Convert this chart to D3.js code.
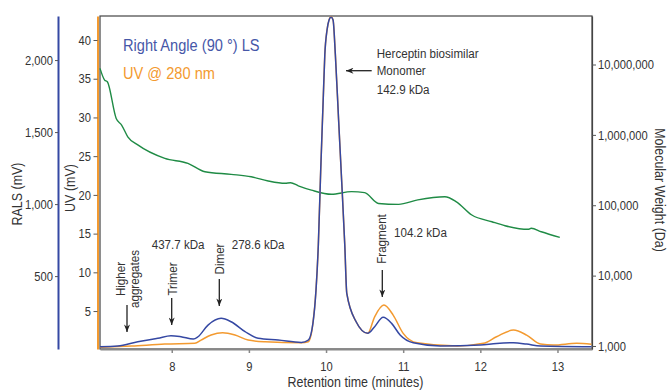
<!DOCTYPE html>
<html>
<head>
<meta charset="utf-8">
<script src="https://cdn.jsdelivr.net/npm/d3@7"></script>
<style>
  html, body { margin: 0; padding: 0; background: #fff; }
  svg { display: block; font-family: "Liberation Sans", Arial, sans-serif; }
  .tick text { fill: #333; font-size: 13px; }
  .note { fill: #333; font-size: 13.5px; }
  .title { fill: #333; font-size: 14.5px; }
</style>
</head>
<body>
<div id="chart"></div>
<script>
// Light scattering (RALS), UV @ 280 nm and molecular weight traces
// for a Herceptin biosimilar SEC run.

// Right angle LS trace (retention time in min, mV)
const RALS_TIME = [7.07, 7.30, 7.56, 7.82, 7.99, 8.12, 8.28, 8.34, 8.47, 8.64, 8.77, 8.95,
    9.12, 9.38, 9.68, 9.77, 9.83, 9.87, 9.90, 9.931, 9.963, 9.984, 10.013, 10.039, 10.065,
    10.091, 10.121, 10.163, 10.202, 10.243, 10.269, 10.39, 10.54, 10.63, 10.74, 10.85,
    10.96, 11.13, 11.48, 12.00, 12.21, 12.43, 12.60, 12.78, 13.44];
const RALS_VALUES = [10, 15, 44, 68, 86, 79, 63, 79, 160, 207, 183, 114,
    68, 56, 40, 56, 172, 403, 716, 1237, 1722, 2035, 2209, 2278, 2299,
    2278, 2035, 1584, 1167, 716, 380, 183, 103, 149, 214, 172,
    91, 37, 15, 22, 33, 37, 28, 15, 10];

// UV @ 280 nm trace (retention time in min, mV)
const UV_TIME = [7.07, 7.48, 7.91, 8.30, 8.38, 8.51, 8.66, 8.82, 8.99, 9.21, 9.68, 9.77,
    9.83, 9.87, 9.90, 9.931, 9.963, 9.984, 10.013, 10.039, 10.065, 10.091, 10.121, 10.163,
    10.202, 10.243, 10.269, 10.39, 10.54, 10.63, 10.75, 10.87, 11.00, 11.18, 11.70, 12.04,
    12.21, 12.43, 12.60, 12.78, 12.95, 13.25, 13.44];
const UV_VALUES = [0.31, 0.48, 0.74, 0.83, 1.25, 1.90, 2.20, 1.90, 1.25, 1.03, 0.90, 1.03,
    3.41, 7.71, 13.5, 23.2, 32.2, 38.1, 41.3, 42.6, 43.0, 42.6, 38.1, 29.6,
    21.9, 13.5, 7.28, 3.62, 2.12, 4.26, 5.77, 4.48, 2.12, 0.90, 0.48, 0.83,
    1.68, 2.54, 1.90, 0.74, 0.61, 0.83, 0.70];

// Molecular weight (Da) across the run
const MW_TIME = [7.07, 7.13, 7.165, 7.28, 7.35, 7.43, 7.56, 7.91, 8.21, 8.43, 8.77, 9.03,
    9.25, 9.47, 9.54, 9.64, 9.81, 10.07, 10.33, 10.50, 10.68, 10.94, 11.19, 11.54, 11.69,
    11.89, 12.15, 12.32, 12.62, 12.66, 12.79, 13.03];
const MW_VALUES = [8.8e6, 6.0e6, 5.68e6, 1.71e6, 1.38e6, 9.4e5, 7.2e5, 4.64e5, 3.94e5,
    2.99e5, 2.75e5, 2.54e5, 2.21e5, 2.05e5, 2.09e5, 1.89e5, 1.64e5, 1.43e5, 1.56e5, 1.51e5,
    1.06e5, 1.03e5, 1.19e5, 1.32e5, 1.12e5, 7.26e4, 5.83e4, 5.12e4, 4.55e4, 4.7e4, 4.2e4, 3.5e4];

const X_TICKS = [8, 9, 10, 11, 12, 13];
const UV_TICKS = [5, 10, 15, 20, 25, 30, 35, 40];
const RALS_TICKS = [500, 1000, 1500, 2000];
const MW_TICKS = [1e3, 1e4, 1e5, 1e6, 1e7];

const W = 667, H = 391;
const PLOT = { left: 100, right: 592, top: 16, bottom: 349 };
const BLUE = "#3548a3", ORANGE = "#f39a30", GREEN = "#1f8b45";
const K = 0.86; // horizontal squeeze to mimic the condensed face

const svg = d3.select("#chart").append("svg")
    .attr("width", W).attr("height", H);

const x = d3.scaleLinear().domain([7.07, 13.4475]).range([PLOT.left, PLOT.right]);
const yUV = d3.scaleLinear().domain([0.1, 43.1]).range([PLOT.bottom, PLOT.top]);
const yRALS = d3.scaleLinear().domain([-6, 2306]).range([PLOT.bottom, PLOT.top]);
const yMW = d3.scaleLog().domain([906, 4.89e7]).range([PLOT.bottom, PLOT.top]);

// Frame
svg.append("rect")
    .attr("x", PLOT.left).attr("y", PLOT.top)
    .attr("width", PLOT.right - PLOT.left).attr("height", PLOT.bottom - PLOT.top)
    .attr("fill", "none").attr("stroke", "#444").attr("stroke-width", 1.2);

// Axes
const fmt = d3.format(",");

function squeezeTicks(axisG) {
    axisG.selectAll(".tick text").each(function () {
        const t = d3.select(this);
        const tx = +t.attr("x") || 0;
        t.attr("x", tx / K).attr("transform", `scale(${K},1)`);
    });
    axisG.attr("font-family", null).attr("font-size", null);
}

const xAxis = svg.append("g")
    .attr("transform", `translate(0,${PLOT.bottom})`)
    .call(d3.axisBottom(x).tickValues(X_TICKS).tickFormat(d3.format("d"))
        .tickSize(4).tickPadding(8.5).tickSizeOuter(0));
xAxis.select(".domain").attr("stroke", "#888").attr("stroke-width", 2);
xAxis.selectAll(".tick line").attr("stroke", "#888").attr("stroke-width", 1.5);
squeezeTicks(xAxis);

const uvAxis = svg.append("g")
    .attr("transform", "translate(97.5,0)")
    .call(d3.axisLeft(yUV).tickValues(UV_TICKS).tickSize(4).tickPadding(2.5).tickSizeOuter(0));
uvAxis.select(".domain").attr("stroke", ORANGE).attr("stroke-width", 2);
uvAxis.selectAll(".tick line").attr("stroke", "#555");
squeezeTicks(uvAxis);

const ralsAxis = svg.append("g")
    .attr("transform", "translate(58,0)")
    .call(d3.axisLeft(yRALS).tickValues(RALS_TICKS).tickFormat(fmt)
        .tickSize(3).tickPadding(2).tickSizeOuter(0));
ralsAxis.select(".domain").attr("stroke", BLUE).attr("stroke-width", 2);
ralsAxis.selectAll(".tick line").attr("stroke", "#555");
squeezeTicks(ralsAxis);

const mwAxis = svg.append("g")
    .attr("transform", `translate(${PLOT.right},0)`)
    .call(d3.axisRight(yMW).tickValues(MW_TICKS).tickFormat(fmt)
        .tickSize(4).tickPadding(2).tickSizeOuter(0));
mwAxis.select(".domain").attr("stroke", "#444").attr("stroke-width", 1.2);
mwAxis.selectAll(".tick line").attr("stroke", "#555");
squeezeTicks(mwAxis);

// Traces
const trace = (ys) => d3.line()
    .x((d) => x(d[0]))
    .y((d) => ys(d[1]))
    .curve(d3.curveMonotoneX);

svg.append("path")
    .datum(d3.zip(MW_TIME, MW_VALUES))
    .attr("fill", "none").attr("stroke", GREEN).attr("stroke-width", 1.4)
    .attr("d", trace(yMW));

svg.append("path")
    .datum(d3.zip(UV_TIME, UV_VALUES))
    .attr("fill", "none").attr("stroke", ORANGE).attr("stroke-width", 1.5)
    .attr("d", trace(yUV));

svg.append("path")
    .datum(d3.zip(RALS_TIME, RALS_VALUES))
    .attr("fill", "none").attr("stroke", BLUE).attr("stroke-width", 1.5)
    .attr("d", trace(yRALS));

// Text helper: squeezed along its own direction
function text(str, tx, ty, opts = {}) {
    const rot = opts.rotate ? ` rotate(${opts.rotate})` : "";
    const el = svg.append("text")
        .attr("class", opts.cls || "note")
        .attr("transform", `translate(${tx},${ty})${rot} scale(${K},1)`)
        .attr("text-anchor", opts.anchor || "start")
        .text(str);
    if (opts.fill) el.style("fill", opts.fill);
    if (opts.size) el.style("font-size", `${opts.size}px`);
    return el;
}

// Legend
text("Right Angle (90 °) LS", 123, 50.5, { fill: "#4657a8", size: 17 });
text("UV @ 280 nm", 123, 79.3, { fill: ORANGE, size: 17 });

// Axis titles
text("RALS (mV)", 22, 194, { cls: "title", rotate: -90, anchor: "middle" });
text("UV (mV)", 75, 188, { cls: "title", rotate: -90, anchor: "middle" });
text("Molecular Weight (Da)", 655, 190, { cls: "title", rotate: 90, anchor: "middle" });
text("Retention time (minutes)", 355.5, 386.5, { cls: "title", anchor: "middle" });

// Annotations
svg.append("defs").append("marker")
    .attr("id", "head")
    .attr("viewBox", "0 -4 10 8")
    .attr("refX", 10).attr("refY", 0)
    .attr("markerUnits", "userSpaceOnUse")
    .attr("markerWidth", 9).attr("markerHeight", 6)
    .attr("orient", "auto")
    .append("path").attr("d", "M0,-4L10,0L0,4L3,0Z").attr("fill", "#222");

function arrow(x1, y1, x2, y2) {
    svg.append("line")
        .attr("x1", x1).attr("y1", y1).attr("x2", x2).attr("y2", y2)
        .attr("stroke", "#222").attr("stroke-width", 1.3)
        .attr("marker-end", "url(#head)");
}

const vlabel = (str, bx, cy) => text(str, bx, cy, { rotate: -90, anchor: "middle" });

vlabel("Higher", 125, 279);
vlabel("aggregates", 138.5, 279);
arrow(127, 305, 127, 332);

vlabel("Trimer", 176.5, 279);
arrow(171.7, 298, 171.7, 325);
text("437.7 kDa", 151.7, 249.3);

vlabel("Dimer", 223.5, 259);
arrow(219.3, 279, 219.3, 306);
text("278.6 kDa", 231.7, 249.3);

vlabel("Fragment", 386, 239);
arrow(382.3, 270, 382.3, 297);
text("104.2 kDa", 394, 236.7);

text("Herceptin biosimilar", 376.7, 58.3);
text("Monomer", 376.7, 75);
text("142.9 kDa", 376.7, 94.3);
arrow(371.7, 70.7, 346, 70.7);
</script>
</body>
</html>
